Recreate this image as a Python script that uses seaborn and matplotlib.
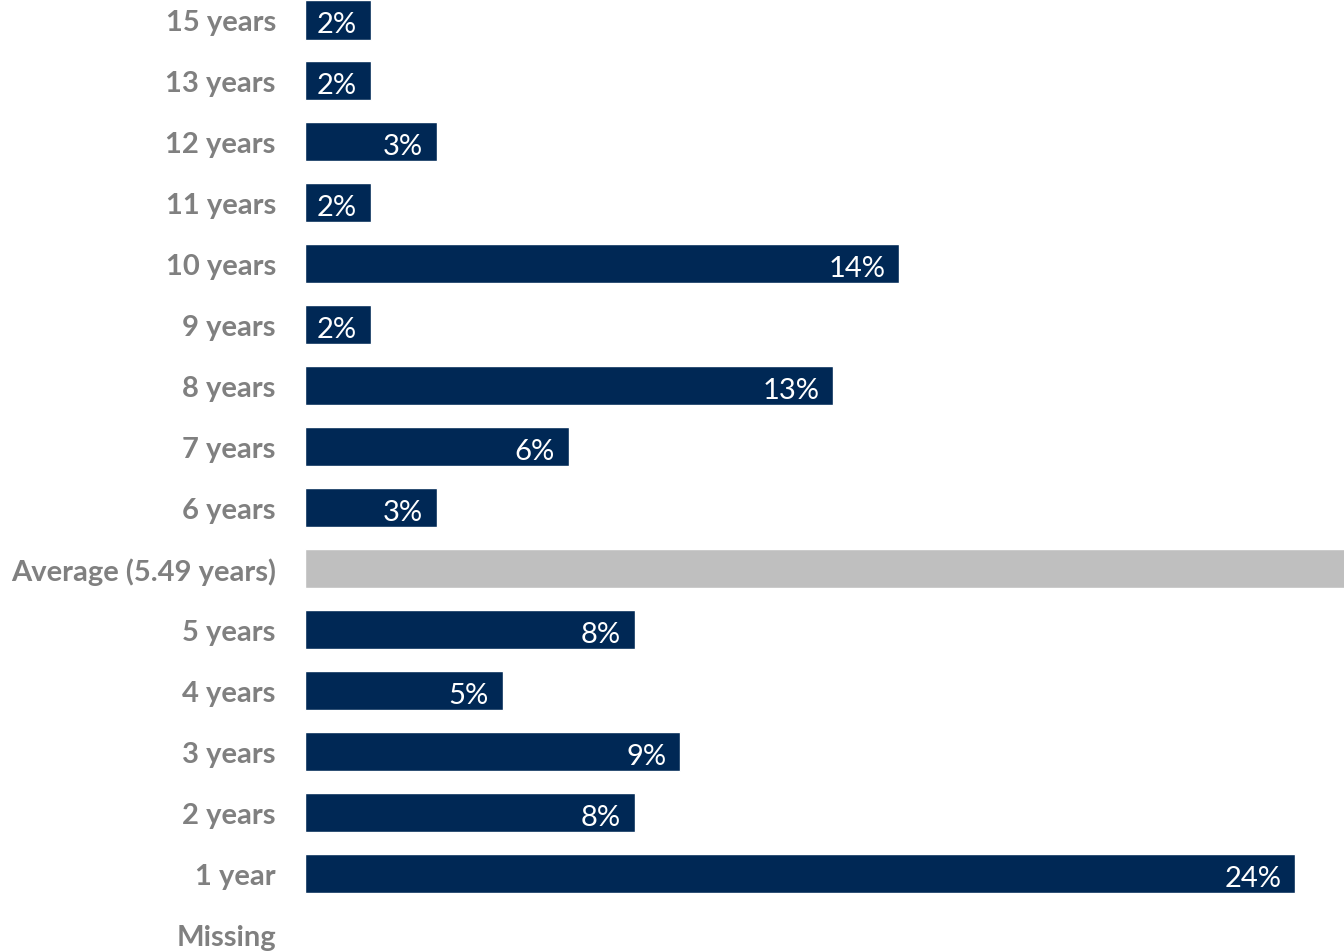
import pandas as pd
import seaborn as sns
import matplotlib.pyplot as plt
from matplotlib.transforms import offset_copy

categories = ["15 years", "13 years", "12 years", "11 years", "10 years", "9 years",
              "8 years", "7 years", "6 years", "Average (5.49 years)", "5 years",
              "4 years", "3 years", "2 years", "1 year", "Missing"]
values = [1.6, 1.6, 3.2, 1.6, 14.4, 1.6, 12.8, 6.4, 3.2, 26.0, 8.0, 4.8, 9.1, 8.0, 24.0, 0.0]
value_labels = ["2%", "2%", "3%", "2%", "14%", "2%", "13%", "6%", "3%", "",
                "8%", "5%", "9%", "8%", "24%", ""]

navy = "#002855"
grey = "#bfbfbf"

df = pd.DataFrame({"category": categories, "value": values})
df["kind"] = ["avg" if c.startswith("Average") else "bar" for c in categories]

sns.set_style("white")
plt.rcParams["font.family"] = ["Lato", "DejaVu Sans"]

fig = plt.figure(figsize=(13.44, 9.53), dpi=100)
ax = fig.add_axes([305 / 1344, 0, 1 - 305 / 1344, 1])

sns.barplot(data=df, x="value", y="category", hue="kind",
            palette={"bar": navy, "avg": grey}, width=0.64, saturation=1,
            legend=False, ax=ax, orient="h")

ax.set_xlim(0, 25.18)
ax.set_ylim(15.28, -0.344)

# value labels inside the bar end
trans = offset_copy(ax.transData, fig=fig, x=-14, y=-2, units="dots")
for i, (v, lab) in enumerate(zip(values, value_labels)):
    if lab:
        ax.text(v, i, lab, transform=trans, ha="right", va="center_baseline",
                color="white", fontsize=21)

ax.set_xlabel("")
ax.set_ylabel("")
ax.set_xticks([])
ax.tick_params(axis="y", length=0, pad=21)
for t in ax.get_yticklabels():
    t.set_fontsize(21)
    t.set_fontweight("bold")
    t.set_color("#808080")
sns.despine(ax=ax, left=True, bottom=True)

fig.savefig("out.png", dpi=100)
